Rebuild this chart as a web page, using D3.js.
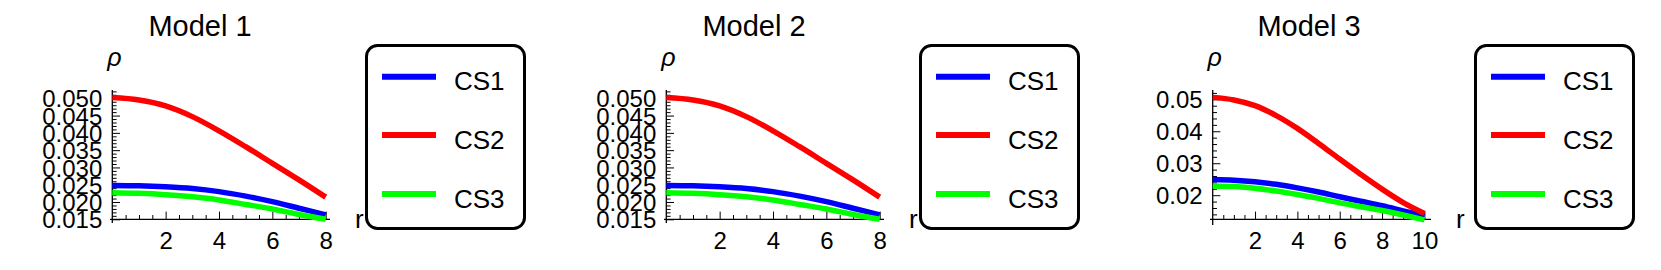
<!DOCTYPE html>
<html><head><meta charset="utf-8">
<script src="https://cdn.jsdelivr.net/npm/d3@7"></script>
<style>
body{margin:0;background:#fff}
svg text{font-family:"Liberation Sans",Arial,sans-serif;fill:#000}
</style>
</head><body>
<svg id="c" width="1661" height="270"></svg>
<script>
// ---------- data ----------
const titles = ["Model 1", "Model 2", "Model 3"];
const seriesNames = ["CS1", "CS2", "CS3"];
const seriesColors = ["#0000ff", "#ff0000", "#00ff00"];

const rModel1 = [0, 1, 2, 3, 4, 5, 6, 7, 8];
const cs1Model1 = [0.0248, 0.0247, 0.0244, 0.0239, 0.0230, 0.0217, 0.0201, 0.0182, 0.0163];
const cs2Model1 = [0.0502, 0.0495, 0.0478, 0.0447, 0.0406, 0.0360, 0.0312, 0.0264, 0.0214];
const cs3Model1 = [0.0227, 0.0225, 0.0221, 0.0215, 0.0206, 0.0193, 0.0180, 0.0164, 0.0150];

const rModel2 = [0, 1, 2, 3, 4, 5, 6, 7, 8];
const cs1Model2 = [0.0248, 0.0247, 0.0244, 0.0239, 0.0230, 0.0217, 0.0201, 0.0182, 0.0163];
const cs2Model2 = [0.0502, 0.0495, 0.0478, 0.0447, 0.0406, 0.0360, 0.0312, 0.0264, 0.0214];
const cs3Model2 = [0.0227, 0.0225, 0.0221, 0.0215, 0.0206, 0.0193, 0.0180, 0.0164, 0.0150];

const rModel3 = [0, 1, 2, 3, 4, 5, 6, 7, 8, 9, 10];
const cs1Model3 = [0.0249, 0.0247, 0.0242, 0.0234, 0.0223, 0.0210, 0.0195, 0.0181, 0.0167, 0.0151, 0.0135];
const cs2Model3 = [0.0506, 0.0498, 0.0480, 0.0449, 0.0409, 0.0362, 0.0313, 0.0265, 0.0219, 0.0177, 0.0143];
const cs3Model3 = [0.0229, 0.0227, 0.0222, 0.0213, 0.0202, 0.0190, 0.0176, 0.0164, 0.0152, 0.0138, 0.0123];

const xTicksModel12 = [2, 4, 6, 8];
const xTicksModel3 = [2, 4, 6, 8, 10];
const yTicksModel12 = [0.015, 0.020, 0.025, 0.030, 0.035, 0.040, 0.045, 0.050];
const yTicksModel3 = [0.02, 0.03, 0.04, 0.05];
const yLabelName = "ρ";
const xLabelName = "r";

// ---------- layout ----------
const panels = [
  { r: rModel1, s: [cs1Model1, cs2Model1, cs3Model1], xDom: [0, 8], xRange: [112.3, 325.7], axX: [110, 330],
    yDom: [0.015, 0.050], yRange: [219.3, 98.3], xAxisY: 219.3, axY: [90, 223], xTicks: xTicksModel12, yTicks: yTicksModel12,
    xMinorStep: 0.5, yMinor: [0.016, 0.0525, 0.001], fmt: ".3f", legendX: 365, titleX: 200, rX: 355 },
  { r: rModel2, s: [cs1Model2, cs2Model2, cs3Model2], xDom: [0, 8], xRange: [666.3, 879.7], axX: [664, 884],
    yDom: [0.015, 0.050], yRange: [219.3, 98.3], xAxisY: 219.3, axY: [90, 223], xTicks: xTicksModel12, yTicks: yTicksModel12,
    xMinorStep: 0.5, yMinor: [0.016, 0.0525, 0.001], fmt: ".3f", legendX: 919, titleX: 754, rX: 909 },
  { r: rModel3, s: [cs1Model3, cs2Model3, cs3Model3], xDom: [0, 10], xRange: [1212.7, 1424.4], axX: [1210, 1431],
    yDom: [0.02, 0.05], yRange: [195.2, 99.3], xAxisY: 219.3, axY: [90, 225], xTicks: xTicksModel3, yTicks: yTicksModel3,
    xMinorStep: 0.5, yMinor: [0.014, 0.0525, 0.002], fmt: ".2f", legendX: 1474, titleX: 1309, rX: 1456 }
];

const svg = d3.select("#c");
svg.append("rect").attr("width", 1661).attr("height", 270).attr("fill", "#fff");

panels.forEach((p, i) => {
  const g = svg.append("g");
  const x = d3.scaleLinear().domain(p.xDom).range(p.xRange);
  const y = d3.scaleLinear().domain(p.yDom).range(p.yRange);
  const xAxisY = p.xAxisY;
  const yAxisX = p.xRange[0];

  // title
  g.append("text").attr("x", p.titleX).attr("y", 36).attr("text-anchor", "middle")
    .style("font-size", "29px").text(titles[i]);

  // minor ticks x
  const xMinor = d3.range(p.xMinorStep, p.xDom[1] + 0.001, p.xMinorStep).filter(v => !p.xTicks.includes(v));
  g.append("g").attr("transform", `translate(0,${xAxisY})`)
    .call(d3.axisBottom(x).tickValues(xMinor).tickSize(-4.3).tickFormat(""))
    .call(a => a.select(".domain").remove())
    .call(a => a.selectAll("line").attr("stroke", "#000").attr("stroke-width", 1));
  // major ticks x
  g.append("g").attr("transform", `translate(0,${xAxisY})`)
    .call(d3.axisBottom(x).tickValues(p.xTicks).tickSize(-7.7).tickPadding(0).tickFormat(d3.format("d")))
    .call(a => a.select(".domain").remove())
    .call(a => a.selectAll("line").attr("stroke", "#000").attr("stroke-width", 1))
    .call(a => a.selectAll("text").attr("y", 30).attr("dy", null)
      .style("font-size", "24px").style("font-family", '"Liberation Sans",Arial,sans-serif').attr("fill", "#000"));

  // minor ticks y
  const yMinor = d3.range(p.yMinor[0], p.yMinor[1], p.yMinor[2])
    .filter(v => !p.yTicks.some(t => Math.abs(t - v) < 1e-6));
  g.append("g").attr("transform", `translate(${yAxisX},0)`)
    .call(d3.axisLeft(y).tickValues(yMinor).tickSize(-4.3).tickFormat(""))
    .call(a => a.select(".domain").remove())
    .call(a => a.selectAll("line").attr("stroke", "#000").attr("stroke-width", 1));
  // major ticks y
  g.append("g").attr("transform", `translate(${yAxisX},0)`)
    .call(d3.axisLeft(y).tickValues(p.yTicks).tickSize(-7.7).tickPadding(10).tickFormat(d3.format(p.fmt)))
    .call(a => a.select(".domain").remove())
    .call(a => a.selectAll("line").attr("stroke", "#000").attr("stroke-width", 1))
    .call(a => a.selectAll("text").attr("dy", "0.36em")
      .style("font-size", "24px").style("font-family", '"Liberation Sans",Arial,sans-serif').attr("fill", "#000"));

  // axis lines
  g.append("line").attr("x1", p.axX[0]).attr("x2", p.axX[1]).attr("y1", xAxisY).attr("y2", xAxisY)
    .attr("stroke", "#000").attr("stroke-width", 1.3);
  g.append("line").attr("x1", yAxisX).attr("x2", yAxisX).attr("y1", p.axY[0]).attr("y2", p.axY[1])
    .attr("stroke", "#000").attr("stroke-width", 1.3);

  // axis labels
  g.append("text").attr("x", yAxisX + 2).attr("y", 66).attr("text-anchor", "middle")
    .style("font-size", "25px").style("font-style", "italic").text(yLabelName);
  g.append("text").attr("x", p.rX).attr("y", 228)
    .style("font-size", "26px").text(xLabelName);

  // series
  const line = d3.line().x((d, k) => x(p.r[k])).y(d => y(d)).curve(d3.curveCatmullRom.alpha(0.5));
  p.s.forEach((vals, k) => {
    g.append("path").attr("d", line(vals)).attr("fill", "none")
      .attr("stroke", seriesColors[k]).attr("stroke-width", 5.5);
  });

  // legend
  const lx = p.legendX;
  g.append("rect").attr("x", lx + 1.5).attr("y", 45.5).attr("width", 158).attr("height", 183)
    .attr("rx", 11).attr("ry", 11).attr("fill", "#fff").attr("stroke", "#000").attr("stroke-width", 3);
  const legY = [76.7, 135, 194];
  seriesNames.forEach((nm, k) => {
    g.append("line").attr("x1", lx + 17).attr("x2", lx + 71).attr("y1", legY[k]).attr("y2", legY[k])
      .attr("stroke", seriesColors[k]).attr("stroke-width", 6);
    g.append("text").attr("x", lx + 89).attr("y", legY[k] + 13.5)
      .style("font-size", "26px").text(nm);
  });
});
</script>
</body></html>
